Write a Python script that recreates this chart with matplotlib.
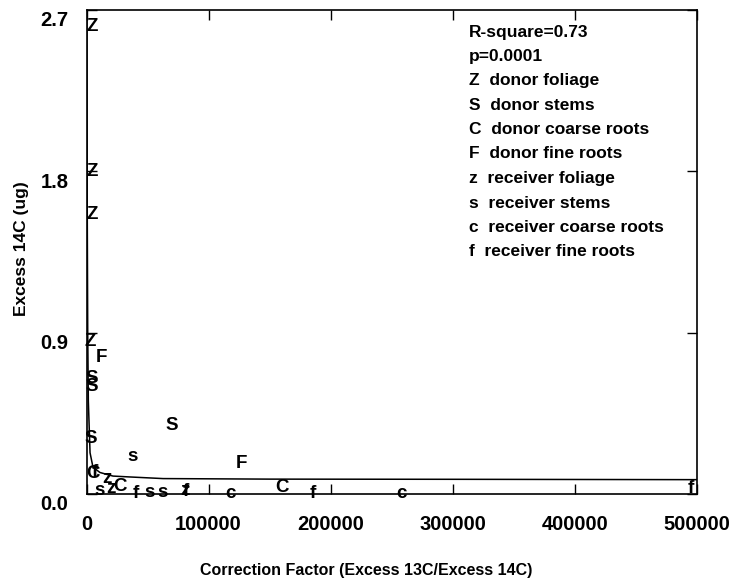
import matplotlib
matplotlib.use("Agg")
import matplotlib.pyplot as plt
import matplotlib.transforms as mtransforms

# letters used as plot symbols, one group per tissue
donor_foliage_x = [4500, 4500, 4500, 3000]
donor_foliage_y = [2.61, 1.80, 1.56, 0.85]
donor_stems_x = [4500, 4500, 3700, 70000]
donor_stems_y = [0.647, 0.60, 0.31, 0.38]
donor_coarse_x = [5300, 27500, 160000]
donor_coarse_y = [0.117, 0.04, 0.035]
donor_fine_x = [12000, 126600]
donor_fine_y = [0.76, 0.17]
recv_foliage_x = [16800, 20000, 80700]
recv_foliage_y = [0.085, 0.03, 0.02]
recv_stems_x = [38100, 11000, 52000, 62000]
recv_stems_y = [0.21, 0.02, 0.01, 0.01]
recv_coarse_x = [117600, 257800]
recv_coarse_y = [0.005, 0.005]
recv_fine_x = [7000, 40000, 81000, 185500, 494600]
recv_fine_y = [0.12, 0.005, 0.015, 0.005, 0.03]

# fitted curve
curve_x = [300, 600, 1000, 1500, 2900, 5300, 11000, 21700, 35700, 62700, 150000, 300000, 500000]
curve_y = [2.7, 1.6, 0.9, 0.52, 0.23, 0.15, 0.12, 0.10, 0.095, 0.086, 0.083, 0.082, 0.08]

stats_lines = ["R-square=0.73", "p=0.0001"]
legend_lines = [
    "Z  donor foliage",
    "S  donor stems",
    "C  donor coarse roots",
    "F  donor fine roots",
    "z  receiver foliage",
    "s  receiver stems",
    "c  receiver coarse roots",
    "f  receiver fine roots",
]

x_ticks = [0, 100000, 200000, 300000, 400000, 500000]
y_ticks = [0.0, 0.9, 1.8, 2.7]

plt.rcParams["font.family"] = ["Liberation Sans", "DejaVu Sans"]

fig = plt.figure(figsize=(7.33, 5.83), dpi=100)
ax = fig.add_axes([86.5 / 733, 1 - 494 / 583, 610.5 / 733, 484 / 583])

ax.plot(curve_x, curve_y, color="black", lw=1.1)

groups = [
    ("Z", donor_foliage_x, donor_foliage_y),
    ("S", donor_stems_x, donor_stems_y),
    ("C", donor_coarse_x, donor_coarse_y),
    ("F", donor_fine_x, donor_fine_y),
    ("z", recv_foliage_x, recv_foliage_y),
    ("s", recv_stems_x, recv_stems_y),
    ("c", recv_coarse_x, recv_coarse_y),
    ("f", recv_fine_x, recv_fine_y),
]
for letter, xs, ys in groups:
    for x, y in zip(xs, ys):
        ax.text(x, y, letter, ha="center", va="center", fontsize=13.5,
                fontweight="bold", clip_on=False)

ax.set_xlim(0, 500000)
ax.set_ylim(0, 2.7)
ax.set_xticks(x_ticks)
ax.set_xticklabels([str(t) for t in x_ticks])
ax.set_yticks(y_ticks)
ax.set_yticklabels([f"{t:.1f}" for t in y_ticks])

ax.tick_params(direction="in", length=7, width=1, top=True, right=True,
               labelsize=14.5)
ax.tick_params(axis="x", pad=15)
ax.tick_params(axis="y", pad=13)
for lab in ax.get_xticklabels() + ax.get_yticklabels():
    lab.set_fontweight("bold")

# y tick labels sit a little below their ticks in the original
shift = mtransforms.ScaledTranslation(0, -9 / 100, fig.dpi_scale_trans)
for lab in ax.get_yticklabels():
    lab.set_transform(lab.get_transform() + shift)

for sp in ax.spines.values():
    sp.set_linewidth(1.2)

fig.text(366 / 733, 1 - 570 / 583, "Correction Factor (Excess 13C/Excess 14C)",
         ha="center", va="center", fontsize=11.5, fontweight="bold")
fig.text(22 / 733, 1 - 249 / 583, "Excess 14C (ug)", rotation=90,
         ha="center", va="center", fontsize=12.5, fontweight="bold")

line_px = [33, 57, 81, 105, 129, 154, 179, 204, 228, 252]
for py, txt in zip(line_px, stats_lines + legend_lines):
    ax.text((469 - 86.5) / 610.5, (494 - py) / 484, txt, transform=ax.transAxes,
            ha="left", va="center", fontsize=12.5, fontweight="bold")

fig.savefig("out.png", dpi=100)
